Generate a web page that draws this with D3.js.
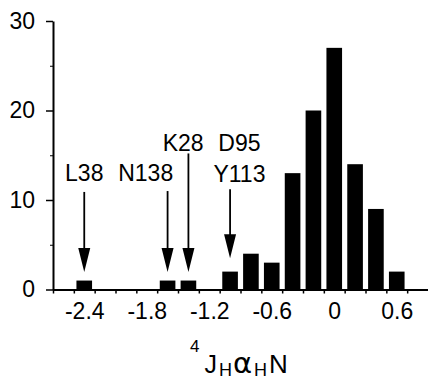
<!DOCTYPE html>
<html>
<head>
<meta charset="utf-8">
<script src="https://cdn.jsdelivr.net/npm/d3@7"></script>
<style>
  body { margin: 0; background: #fff; }
  svg { display: block; font-family: "Liberation Sans", Arial, Helvetica, sans-serif; }
</style>
</head>
<body>
<div id="chart"></div>
<script>

// histogram bins (centre of bin) and counts
var binCenters = [-2.4, -2.2, -2.0, -1.8, -1.6, -1.4, -1.2, -1.0, -0.8, -0.6, -0.4, -0.2, 0, 0.2, 0.4, 0.6];
var counts     = [1, 0, 0, 0, 1, 1, 0, 2, 4, 3, 13, 20, 27, 14, 9, 2];

var xTickValues = [-2.4, -1.8, -1.2, -0.6, 0, 0.6];
var xTickLabels = ["-2.4", "-1.8", "-1.2", "-0.6", "0", "0.6"];
var yTickValues = [0, 10, 20, 30];
var yMinorTicks = [5, 15, 25];

// labelled residues: bin they point at, text, text x (data units), text baseline (count units)
var annoBins   = [-2.4, -1.6, -1.4, -1.0];
var annoText   = [["L38"], ["N138"], ["K28"], ["D95", "Y113"]];
var annoTextX  = [-2.4, -1.81, -1.45, -0.91];
var annoTextY  = [12.1, 12.1, 15.5, 15.5];
var annoTop    = [10.9, 11.0, 15.2, 11.2];
var annoTip    = [1.95, 1.95, 1.95, 3.5];

var width = 428, height = 380;
var fontSize = 23;

var svg = d3.select("#chart").append("svg")
	.attr("width", width)
	.attr("height", height);

var x = d3.scaleLinear().domain([-2.7, 0.9]).range([53, 428]);
var y = d3.scaleLinear().domain([0, 30]).range([289.5, 21]);
var barW = x(0.15) - x(0);

// bars
svg.append("g").selectAll("rect")
	.data(counts)
	.enter().append("rect")
	.attr("x", function(d, i) { return x(binCenters[i]) - barW / 2; })
	.attr("y", function(d) { return y(d); })
	.attr("width", barW)
	.attr("height", function(d) { return y(0) - y(d); })
	.attr("fill", "#000");

// x axis: small ticks at the bin edges
var edges = d3.range(0, 18).map(function(i) { return +(-2.7 + i * 0.2).toFixed(1); });
var xMinor = svg.append("g")
	.attr("transform", "translate(0," + y(0) + ")")
	.call(d3.axisBottom(x).tickValues(edges).tickSize(4).tickSizeOuter(0).tickFormat(""));
xMinor.select(".domain").attr("stroke-width", 2);
xMinor.selectAll(".tick line").attr("stroke-width", 1.5);

// x axis labels
var xLab = svg.append("g")
	.attr("transform", "translate(0," + y(0) + ")")
	.call(d3.axisBottom(x).tickValues(xTickValues).tickSize(0).tickPadding(13)
		.tickFormat(function(d, i) { return xTickLabels[i]; }));
xLab.select(".domain").remove();
xLab.selectAll("text").attr("font-size", fontSize).attr("font-family", null).attr("fill", "#000");

// y axis
var yAx = svg.append("g")
	.attr("transform", "translate(" + x(-2.7) + ",0)")
	.call(d3.axisLeft(y).tickValues(yTickValues).tickSize(7).tickSizeOuter(0).tickPadding(11));
yAx.select(".domain").attr("stroke-width", 2);
yAx.selectAll(".tick line").attr("stroke-width", 1.5);
yAx.selectAll("text").attr("font-size", fontSize).attr("font-family", null).attr("fill", "#000");

svg.append("g")
	.attr("transform", "translate(" + x(-2.7) + ",0)")
	.call(d3.axisLeft(y).tickValues(yMinorTicks).tickSize(3).tickFormat(""))
	.call(function(g) { g.select(".domain").remove(); });

// annotations with arrows
for (i = 0; i < annoBins.length; i++) {
	var ax = x(annoBins[i]);
	var tip = y(annoTip[i]);
	svg.append("line")
		.attr("x1", ax).attr("x2", ax)
		.attr("y1", y(annoTop[i])).attr("y2", tip - 10)
		.attr("stroke", "#000").attr("stroke-width", 1.8);
	svg.append("path")
		.attr("d", "M" + (ax - 6) + "," + (tip - 24) + "L" + (ax + 6) + "," + (tip - 24) + "L" + ax + "," + tip + "Z")
		.attr("fill", "#000");
	for (j = 0; j < annoText[i].length; j++) {
		svg.append("text")
			.attr("x", x(annoTextX[i]))
			.attr("y", y(annoTextY[i]) + j * 31)
			.attr("text-anchor", "middle")
			.attr("font-size", fontSize)
			.text(annoText[i][j]);
	}
}

// axis title  4J(H alpha H N)
var title = svg.append("text").attr("x", 190).attr("y", 352).attr("fill", "#000");
title.append("tspan").attr("font-size", 17).attr("y", 352).text("4");
title.append("tspan").attr("font-size", 25).attr("y", 373).attr("dx", 5).text("J");
title.append("tspan").attr("font-size", 18).attr("y", 376).attr("dx", 2).text("H");
title.append("tspan").attr("font-size", 29).attr("y", 373).attr("dx", 1).attr("font-family", "DejaVu Sans").text("α");
title.append("tspan").attr("font-size", 18).attr("y", 376).attr("dx", 2).text("H");
title.append("tspan").attr("font-size", 26).attr("y", 373).attr("dx", 2).text("N");

</script>
</body>
</html>
